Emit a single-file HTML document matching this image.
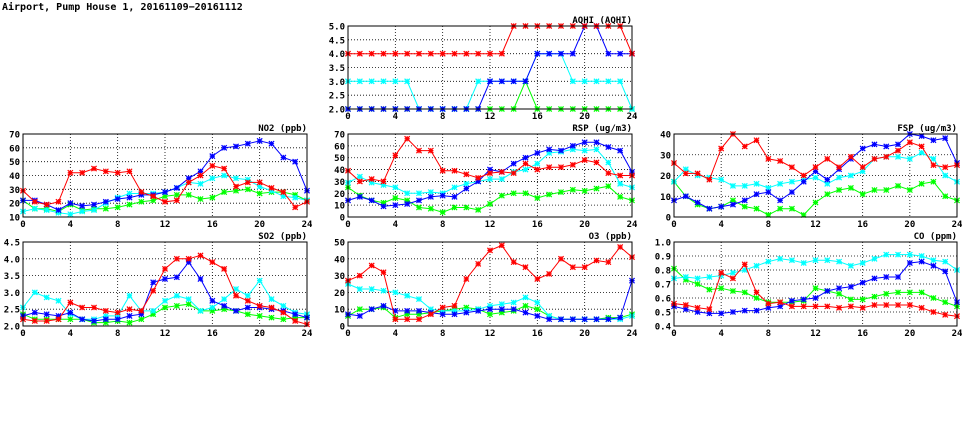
<!DOCTYPE html>
<html><head><meta charset="utf-8"><style>
body{margin:0;background:#fff;width:975px;height:447px;overflow:hidden}
svg{display:block}
text{font-family:"DejaVu Sans Mono","Liberation Mono",monospace;font-weight:bold}
</style></head><body>
<svg id="c" width="975" height="447" viewBox="0 0 975 447" xmlns="http://www.w3.org/2000/svg">
<text x="2" y="10" font-size="10">Airport, Pump House 1, 20161109−20161112</text>
</svg>
<script>
const hours=[0,1,2,3,4,5,6,7,8,9,10,11,12,13,14,15,16,17,18,19,20,21,22,23,24];
const xTicks=[0,4,8,12,16,20,24];
const colors={green:'#00ff00',cyan:'#00ffff',blue:'#0000ff',red:'#ff0000'};
const aqhiRed=[4,4,4,4,4,4,4,4,4,4,4,4,4,4,5,5,5,5,5,5,5,5,5,5,4];
const aqhiBlue=[2,2,2,2,2,2,2,2,2,2,2,2,3,3,3,3,4,4,4,4,5,5,4,4,4];
const aqhiCyan=[3,3,3,3,3,3,2,2,2,2,2,3,3,3,3,3,4,4,4,3,3,3,3,3,2];
const aqhiGreen=[2,2,2,2,2,2,2,2,2,2,2,2,2,2,2,3,2,2,2,2,2,2,2,2,2];
const aqhiTicks=[2.0,2.5,3.0,3.5,4.0,4.5,5.0];
const no2Red=[29,21,19,21,42,42,45,43,42,43,28,25,21,22,35,40,47,45,32,35,35,31,28,17,21];
const no2Blue=[22,22,19,15,20,18,19,21,23,24,26,26,28,31,38,43,54,60,61,63,65,63,53,50,29];
const no2Cyan=[14,16,15,13,12,14,15,20,24,27,27,27,28,31,35,34,38,40,38,37,32,29,25,24,22];
const no2Green=[22,16,16,14,19,15,16,16,17,19,21,22,25,26,26,23,24,28,29,30,27,28,28,26,22];
const no2Ticks=[10,20,30,40,50,60,70];
const rspRed=[39,30,32,30,52,66,56,56,39,39,36,33,37,38,37,45,40,42,42,44,48,46,37,35,35];
const rspBlue=[14,17,14,9,10,11,14,17,18,17,24,30,40,38,45,50,54,57,56,60,63,63,59,56,38];
const rspCyan=[29,34,29,27,25,20,20,21,20,25,28,30,32,32,38,40,45,54,55,57,56,57,46,28,25];
const rspGreen=[25,18,14,12,16,14,8,7,4,8,8,6,11,18,20,20,16,19,21,23,22,24,26,17,14];
const rspTicks=[0,10,20,30,40,50,60,70];
const fspRed=[26,21,21,18,33,40,34,37,28,27,24,20,24,28,24,29,24,28,29,32,36,34,25,24,25];
const fspBlue=[8,10,7,4,5,6,8,11,12,8,12,17,22,18,23,28,33,35,34,35,40,39,37,38,26];
const fspCyan=[17,23,20,19,18,15,15,16,14,16,17,18,19,16,19,20,22,28,29,29,28,31,28,20,17];
const fspGreen=[17,10,6,4,5,8,5,4,1,4,4,1,7,11,13,14,11,13,13,15,13,16,17,10,8];
const fspTicks=[0,10,20,30,40];
const so2Red=[2.2,2.15,2.15,2.2,2.7,2.55,2.55,2.45,2.4,2.5,2.45,3.05,3.7,4.0,4.0,4.1,3.9,3.7,2.9,2.75,2.6,2.55,2.4,2.15,2.05];
const so2Blue=[2.3,2.4,2.35,2.3,2.4,2.2,2.15,2.2,2.2,2.3,2.35,3.3,3.4,3.45,3.9,3.4,2.75,2.6,2.45,2.55,2.55,2.5,2.45,2.35,2.25];
const so2Cyan=[2.55,3.0,2.85,2.75,2.35,2.2,2.2,2.3,2.3,2.9,2.45,2.45,2.75,2.9,2.8,2.45,2.55,2.8,3.1,2.9,3.35,2.8,2.6,2.4,2.35];
const so2Green=[2.35,2.2,2.2,2.2,2.2,2.2,2.1,2.1,2.15,2.1,2.2,2.35,2.55,2.6,2.65,2.45,2.45,2.5,2.45,2.35,2.3,2.25,2.2,2.25,2.25];
const so2Ticks=[2.0,2.5,3.0,3.5,4.0,4.5];
const o3Red=[27,30,36,32,4,4,4,7,11,12,28,37,45,48,38,35,28,31,40,35,35,39,38,47,41];
const o3Blue=[7,6,10,12,9,9,9,8,7,7,8,9,10,10,10,8,6,4,4,4,4,4,4,5,27];
const o3Cyan=[25,22,22,21,20,18,16,10,9,9,9,10,12,13,14,17,14,6,4,4,4,4,4,4,6];
const o3Green=[6,10,10,11,5,7,7,8,9,10,11,10,7,8,9,12,10,6,4,4,4,4,5,5,7];
const o3Ticks=[0,10,20,30,40,50];
const coRed=[.56,.55,.53,.52,.78,.74,.84,.64,.56,.57,.54,.54,.54,.54,.53,.54,.53,.55,.55,.55,.55,.53,.5,.48,.47];
const coBlue=[.54,.52,.5,.49,.49,.5,.51,.51,.53,.54,.58,.59,.6,.65,.67,.68,.71,.74,.75,.75,.85,.86,.83,.79,.57];
const coCyan=[.74,.75,.74,.75,.76,.78,.8,.83,.86,.88,.87,.85,.87,.87,.86,.83,.85,.88,.91,.91,.91,.9,.87,.86,.8];
const coGreen=[.81,.73,.7,.66,.67,.65,.64,.6,.57,.57,.57,.58,.67,.65,.63,.59,.59,.61,.63,.64,.64,.64,.6,.57,.54];
const coTicks=[0.4,0.5,0.6,0.7,0.8,0.9,1.0];

const NS='http://www.w3.org/2000/svg';
const svg=document.getElementById('c');
function mk(tag,attrs,parent){const e=document.createElementNS(NS,tag);for(const k in attrs)e.setAttribute(k,attrs[k]);(parent||svg).appendChild(e);return e;}
function panel(name,title,x0,y0,x1,y1,ticks,dec,series){
  const g=mk('g',{});
  
  
  const ymin=ticks[0],ymax=ticks[ticks.length-1];
  const xs=h=>x0+(h-0)/(24-0)*(x1-x0);
  const ys=v=>y1-(v-ymin)/(ymax-ymin)*(y1-y0);
  ticks.forEach(t=>{
    const y=ys(t);
    if(t!==ymin&&t!==ymax){const l=mk('line',{x1:x0,x2:x1,y1:y,y2:y,stroke:'#000','stroke-width':0.8,'stroke-dasharray':'1,2'},g);}
    const tx=mk('text',{x:x0-3,y:y+3.5,'font-size':9,'text-anchor':'end'},g);
    
    tx.textContent=t.toFixed(dec);
  });
  xTicks.forEach(t=>{
    const x=xs(t);
    if(t!==0&&t!==24){const l=mk('line',{x1:x,x2:x,y1:y0,y2:y1,stroke:'#000','stroke-width':0.8,'stroke-dasharray':'1,2'},g);}
    const tx=mk('text',{x:x,y:y1+10,'font-size':9,'text-anchor':'middle'},g);
    
    tx.textContent=t;
  });
  series.forEach(([col,vals,sn])=>{
    const c=colors[col];
    const pts=vals.map((v,i)=>xs(hours[i]).toFixed(1)+','+ys(v).toFixed(1)).join(' ');
    const pl=mk('polyline',{points:pts,fill:'none',stroke:c,'stroke-width':1},g);
    
    
    vals.forEach((v,i)=>{
      const x=xs(hours[i]),y=ys(v),r=2.6;
      const p=mk('path',{d:`M${x-r},${y}H${x+r}M${x},${y-r}V${y+r}M${x-r},${y-r}L${x+r},${y+r}M${x-r},${y+r}L${x+r},${y-r}`,stroke:c,'stroke-width':1.2,fill:'none'},g);
      
      
    });
  });
  const fr=mk('rect',{x:x0,y:y0,width:x1-x0,height:y1-y0,fill:'none',stroke:'#000','stroke-width':1},g);
  
  const tt=mk('text',{x:x1,y:y0-3,'font-size':9,'text-anchor':'end'},g);
  
  tt.textContent=title;
}
panel('aqhi','AQHI (AQHI)',348,26,632,109,aqhiTicks,1,[['green',aqhiGreen,'green'],['cyan',aqhiCyan,'cyan'],['blue',aqhiBlue,'blue'],['red',aqhiRed,'red']]);
panel('no2','NO2 (ppb)',23,134,307,217,no2Ticks,0,[['green',no2Green,'green'],['cyan',no2Cyan,'cyan'],['blue',no2Blue,'blue'],['red',no2Red,'red']]);
panel('rsp','RSP (ug/m3)',348,134,632,217,rspTicks,0,[['green',rspGreen,'green'],['cyan',rspCyan,'cyan'],['blue',rspBlue,'blue'],['red',rspRed,'red']]);
panel('fsp','FSP (ug/m3)',674,134,957,217,fspTicks,0,[['green',fspGreen,'green'],['cyan',fspCyan,'cyan'],['blue',fspBlue,'blue'],['red',fspRed,'red']]);
panel('so2','SO2 (ppb)',23,242,307,326,so2Ticks,1,[['green',so2Green,'green'],['cyan',so2Cyan,'cyan'],['blue',so2Blue,'blue'],['red',so2Red,'red']]);
panel('o3','O3 (ppb)',348,242,632,326,o3Ticks,0,[['green',o3Green,'green'],['cyan',o3Cyan,'cyan'],['blue',o3Blue,'blue'],['red',o3Red,'red']]);
panel('co','CO (ppm)',674,242,957,326,coTicks,1,[['green',coGreen,'green'],['cyan',coCyan,'cyan'],['blue',coBlue,'blue'],['red',coRed,'red']]);
</script>
</body></html>
